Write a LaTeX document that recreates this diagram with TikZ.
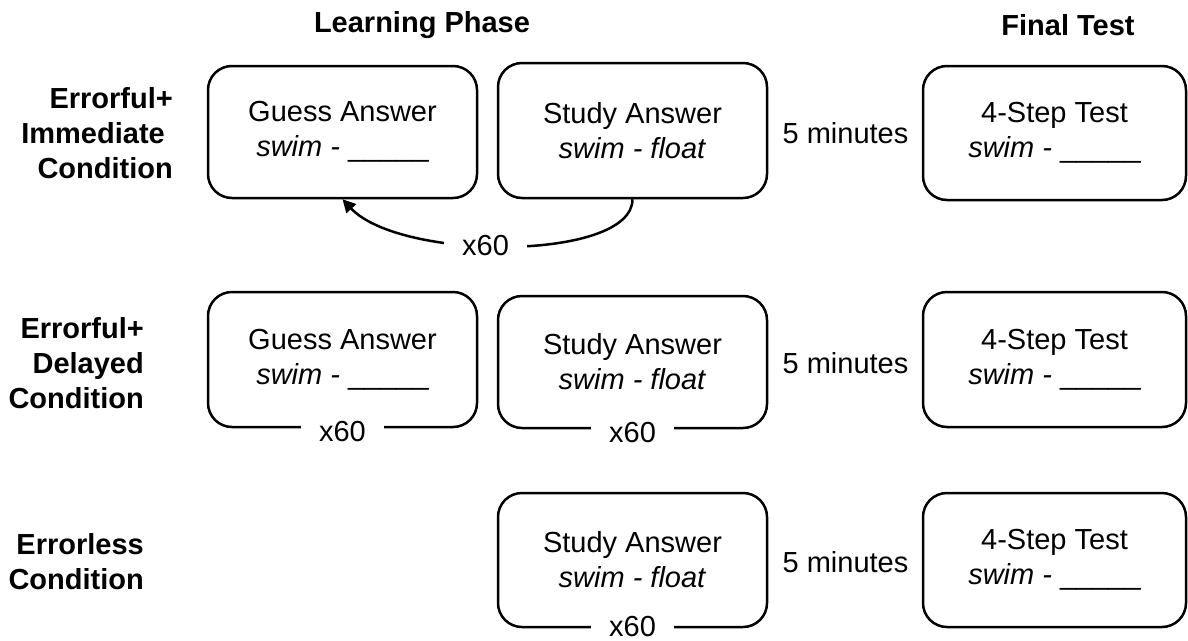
\documentclass[tikz,border=0pt]{standalone}
\usepackage{fontspec}
\setmainfont{Liberation Sans}
\usetikzlibrary{arrows.meta}
\begin{document}
\begin{tikzpicture}[x=1pt,y=1pt,
  txt/.style={font=\fontsize{29}{35}\selectfont, inner sep=0pt, align=center},
  head/.style={txt, font=\fontsize{29}{35}\selectfont\bfseries},
  rowlbl/.style={txt, font=\fontsize{29}{35}\selectfont\bfseries, align=right, anchor=east},
  box/.style={txt, draw, line width=2.5pt, rounded corners=24pt, minimum width=269pt},
  fbox/.style={box, minimum width=263pt},
  lbl/.style={txt, fill=white, inner xsep=18pt, inner ysep=3pt},
  conn/.style={line width=2.5pt, -{Triangle[length=13pt,width=13pt]}}
]
\useasboundingbox (0,0) rectangle (1188,-640);

% headings
\node[head] (hLP) at (422,-25) {Learning Phase};
\node[head] (hFT) at (1068,-25) {Final Test};

% row labels
\node[rowlbl] (r1) at (173,-133) {Errorful+\\Immediate\hbox to 8pt{}\\Condition};
\node[rowlbl] (r2) at (144,-363) {Errorful+\\Delayed\\Condition};
\node[rowlbl] (r3) at (144,-561.5) {Errorless\\Condition};

% row 1
\node[box, minimum height=132pt] (G1) at (342.5,-132) {Guess Answer\\\textit{swim -} \_\_\_\_\_};
\node[box, minimum height=135pt] (S1) at (632.5,-130.5) {Study Answer\\\textit{swim - float}};
\node[txt] (m1) at (845.5,-133) {5 minutes};
\node[fbox, minimum height=134pt] (T1) at (1054.5,-133) {4-Step Test\\\textit{swim -} \_\_\_\_\_};
\draw[conn] (S1.south) .. controls +(0,-62) and +(58,-62) .. (G1.south)
  node[lbl, pos=0.56] (x1) {x60};

% row 2
\node[box, minimum height=135pt] (G2) at (342.5,-359.5) {Guess Answer\\\textit{swim -} \_\_\_\_\_};
\node[box, minimum height=132pt] (S2) at (632.5,-362) {Study Answer\\\textit{swim - float}};
\node[txt] (m2) at (845.5,-363) {5 minutes};
\node[fbox, minimum height=135pt] (T2) at (1054.5,-359.5) {4-Step Test\\\textit{swim -} \_\_\_\_\_};
\node[lbl] (x2) at ([yshift=-3pt]G2.south) {x60};
\node[lbl] (x3) at ([yshift=-3pt]S2.south) {x60};

% row 3
\node[box, minimum height=134pt] (S3) at (632.5,-560) {Study Answer\\\textit{swim - float}};
\node[txt] (m3) at (845.5,-562) {5 minutes};
\node[fbox, minimum height=134pt] (T3) at (1054.5,-560) {4-Step Test\\\textit{swim -} \_\_\_\_\_};
\node[lbl] (x4) at ([yshift=2pt]S3.south) {x60};
\end{tikzpicture}
\end{document}
